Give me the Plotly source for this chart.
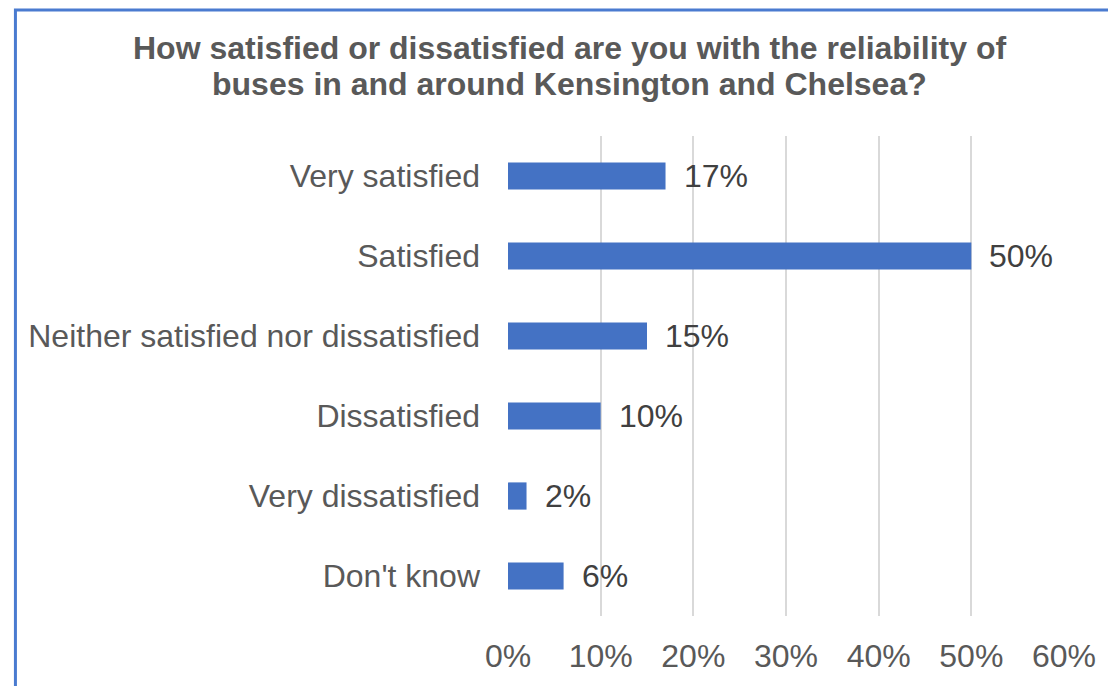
import plotly.graph_objects as go

# Survey responses: reliability of buses in and around Kensington and Chelsea
categories = [
    "Very satisfied",
    "Satisfied",
    "Neither satisfied nor dissatisfied",
    "Dissatisfied",
    "Very dissatisfied",
    "Don't know",
]
shares = [17, 50, 15, 10, 2, 6]
tick_values = [0, 10, 20, 30, 40, 50, 60]
tick_labels = ["0%", "10%", "20%", "30%", "40%", "50%", "60%"]
title_lines = [
    "How satisfied or dissatisfied are you with the reliability of",
    "buses in and around Kensington and Chelsea?",
]

FIG_W, FIG_H = 1108, 686
LEFT, RIGHT, TOP, BOTTOM = 508, 1069, 136, 618
FONT = "Liberation Sans, Arial, sans-serif"
FONT_SIZE = 32
BAR_BLUE = "#4472C4"
GRID = "#D9D9D9"


def px_x(p):
    return (p - LEFT) / (RIGHT - LEFT)


def px_y(p):
    return (BOTTOM - p) / (BOTTOM - TOP)


fig = go.Figure(
    go.Bar(
        x=shares,
        y=categories,
        orientation="h",
        width=0.34,
        marker=dict(color=BAR_BLUE, line=dict(width=0)),
        hoverinfo="skip",
    )
)

# Percentage labels to the right of each bar
for cat, val in zip(categories, shares):
    fig.add_annotation(
        x=val, y=cat, xref="x", yref="y",
        text=f"{val}%", showarrow=False,
        xanchor="left", yanchor="middle", xshift=16,
        font=dict(family=FONT, size=FONT_SIZE, color="#404040"),
    )

# Two-line bold title
for line, cy in zip(title_lines, [48, 84]):
    fig.add_annotation(
        x=px_x(570), y=px_y(cy), xref="paper", yref="paper",
        text=f"<b>{line}</b>", showarrow=False,
        xanchor="center", yanchor="middle",
        font=dict(family=FONT, size=FONT_SIZE, color="#595959"),
    )

# Blue frame along the top and left edges
fig.add_shape(
    type="rect", xref="paper", yref="paper",
    x0=px_x(11), x1=px_x(1125), y0=px_y(9.5), y1=px_y(700),
    line=dict(color="#4A7BD0", width=3), fillcolor="rgba(0,0,0,0)",
    layer="above",
)

fig.update_layout(
    width=FIG_W, height=FIG_H,
    margin=dict(l=LEFT, r=FIG_W - RIGHT, t=TOP, b=FIG_H - BOTTOM, pad=0),
    paper_bgcolor="white", plot_bgcolor="white",
    showlegend=False,
    font=dict(family=FONT, size=FONT_SIZE, color="#595959"),
    xaxis=dict(
        range=[0, 60], tickvals=tick_values, ticktext=tick_labels,
        showgrid=True, gridcolor=GRID, gridwidth=2,
        zeroline=False, showline=False, ticks="",
        ticklabelstandoff=18,
        tickfont=dict(family=FONT, size=FONT_SIZE, color="#595959"),
        fixedrange=True,
    ),
    yaxis=dict(
        autorange="reversed", showgrid=False, zeroline=False,
        showline=False, ticks="", ticklabelstandoff=27,
        tickfont=dict(family=FONT, size=FONT_SIZE, color="#595959"),
        fixedrange=True,
    ),
)

fig.write_html("out.html")
